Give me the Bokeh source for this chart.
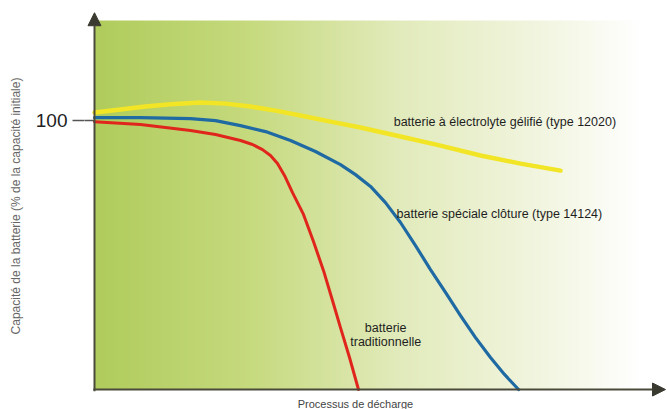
import numpy as np
from bokeh.plotting import figure
from bokeh.models import Range1d, FixedTicker, Arrow, NormalHead, Label
from bokeh.embed import file_html
from bokeh.resources import INLINE

# Discharge curves: x = discharge progress (arbitrary units), y = % of initial capacity
gel_x = [0, 4.55, 8.93, 13.31, 18.56, 22.94, 27.32, 31.70, 36.08, 41.33, 46.58,
         53.59, 60.60, 67.60, 74.61, 81.61]
gel_y = [103.0, 104.1, 105.2, 106.1, 106.7, 106.3, 105.2, 103.7, 101.9, 99.6, 97.4,
         94.1, 90.7, 87.0, 84.0, 81.4]

fence_x = [0, 8.06, 16.81, 21.19, 25.57, 29.95, 34.33, 38.70, 43.08, 45.71, 48.34,
           50.96, 53.59, 56.22, 58.84, 61.47, 64.10, 66.73, 69.35, 71.80, 74.26]
fence_y = [101.1, 101.1, 100.7, 100.0, 98.1, 95.9, 92.6, 88.5, 83.6, 79.9, 75.5,
           69.5, 62.1, 53.5, 44.6, 36.1, 27.5, 19.3, 11.9, 5.6, 0]

trad_x = [0, 8.06, 16.81, 21.19, 25.57, 27.67, 29.42, 30.82, 32.05, 33.27, 34.68,
          36.60, 38.35, 40.11, 41.68, 43.08, 44.66, 46.23]
trad_y = [99.6, 98.5, 96.3, 94.8, 92.6, 91.1, 89.2, 87.0, 84.0, 79.6, 73.2,
          65.1, 55.0, 44.2, 33.1, 23.0, 11.9, 0]

y_ticks = [100]

X_MIN = -1.751
X_MAX = 100.35
Y_MIN = -7.43
Y_MAX = 143.9
BG_TOP = 137.2
ARROW_Y = 140.1
ARROW_X = 100.0

p = figure(width=667, height=409, output_backend="svg", toolbar_location=None,
           x_range=Range1d(X_MIN, X_MAX), y_range=Range1d(Y_MIN, Y_MAX),
           min_border_left=84, min_border_right=0, min_border_top=2, min_border_bottom=0)
p.outline_line_color = None
p.background_fill_color = "white"
p.border_fill_color = "white"
p.grid.visible = False
p.xaxis.visible = False

# Horizontal green-to-white gradient behind the curves
stops_x = [0, 27.1, 53.4, 79.7, 95.5, X_MAX]
stops_rgb = np.array([[176, 204, 92], [198, 218, 126], [226, 235, 188],
                      [243, 246, 226], [255, 255, 255], [255, 255, 255]], dtype=float)
n = 400
xs = np.linspace(0, X_MAX, n)
img = np.empty((1, n), dtype=np.uint32)
view = img.view(dtype=np.uint8).reshape((1, n, 4))
for c in range(3):
    view[0, :, c] = np.interp(xs, stops_x, stops_rgb[:, c]).astype(np.uint8)
view[0, :, 3] = 255
p.image_rgba(image=[img], x=0, y=0, dw=X_MAX, dh=BG_TOP)

# Curves
p.line(gel_x, gel_y, line_color="#f2e526", line_width=4.5, line_join="round", line_cap="round")
p.line(fence_x, fence_y, line_color="#1f6aa3", line_width=3.2, line_join="round", line_cap="round")
p.line(trad_x, trad_y, line_color="#e0261c", line_width=3.0, line_join="round", line_cap="round")

# Y axis with the single reference tick; the tick continues up to the arrow axis
yax = p.yaxis[0]
yax.ticker = FixedTicker(ticks=y_ticks)
yax.major_tick_out = 12
yax.major_tick_in = 0
yax.minor_tick_line_color = None
yax.major_tick_line_color = "#555555"
yax.major_tick_line_width = 1.5
yax.axis_line_color = None
yax.major_label_text_font = "Arimo, Liberation Sans, Arial, sans-serif"
yax.major_label_text_font_size = "19px"
yax.major_label_text_color = "#222222"
yax.major_label_standoff = 5
yax.axis_label = "Capacité de la batterie (% de la capacité initiale)"
yax.axis_label_text_font = "Liberation Sans"
yax.axis_label_text_font_size = "12px"
yax.axis_label_text_font_style = "normal"
yax.axis_label_text_color = "#666666"
yax.axis_label_standoff = 10
p.segment(x0=[X_MIN] * len(y_ticks), y0=y_ticks, x1=[0] * len(y_ticks), y1=y_ticks,
          line_color="#555555", line_width=1.5)

# Axes drawn as arrows
p.add_layout(Arrow(end=NormalHead(size=13, fill_color="#3a3a30", line_color="#3a3a30"),
                   x_start=0, y_start=-0.6, x_end=0, y_end=ARROW_Y,
                   line_color="#4a4a3a", line_width=2))
p.add_layout(Arrow(end=NormalHead(size=13, fill_color="#3a3a30", line_color="#3a3a30"),
                   x_start=-0.2, y_start=0, x_end=ARROW_X, y_end=0,
                   line_color="#4a4a3a", line_width=2))

label_style = dict(text_font="Liberation Sans", text_font_size="12.5px", text_color="#1e1e1e")
p.add_layout(Label(x=52.4, y=99.3, text="batterie à électrolyte gélifié (type 12020)",
                   text_baseline="middle", **label_style))
p.add_layout(Label(x=52.9, y=65.4, text="batterie spéciale clôture (type 14124)",
                   text_baseline="middle", **label_style))
p.add_layout(Label(x=51.0, y=23.0, text="batterie", text_align="center",
                   text_baseline="middle", **label_style))
p.add_layout(Label(x=51.0, y=17.5, text="traditionnelle", text_align="center",
                   text_baseline="middle", **label_style))
p.add_layout(Label(x=45.7, y=-5.2, text="Processus de décharge", text_align="center",
                   text_baseline="middle", text_font="Liberation Sans", text_font_size="11px",
                   text_color="#444444"))

open("out.html", "w").write(file_html(p, INLINE))
